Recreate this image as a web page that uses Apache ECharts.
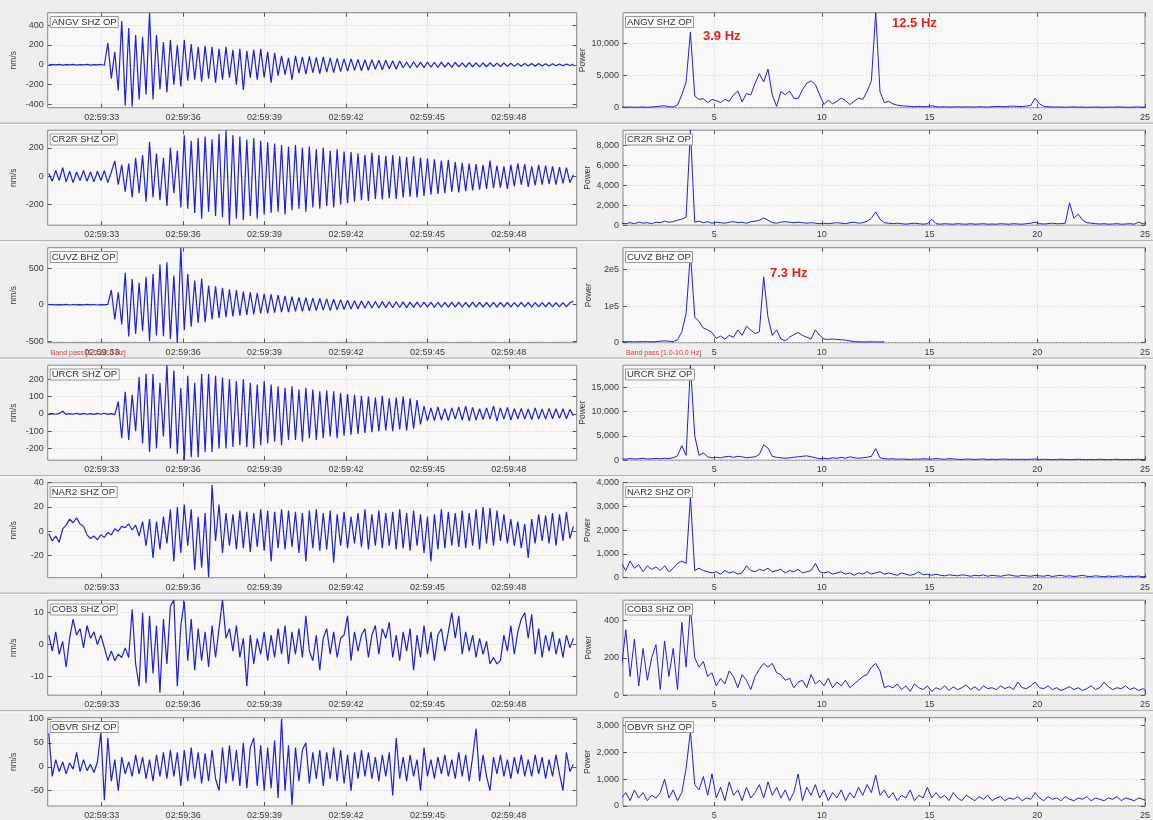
<!DOCTYPE html>
<html><head><meta charset="utf-8">
<script src="https://cdn.jsdelivr.net/npm/echarts@6/dist/echarts.min.js"></script>
<style>html,body{margin:0;padding:0;background:#eeeeee}#c{width:1153px;height:820px}</style>
</head><body><div id="c"></div>
<script>
// ---------- data ----------
const stations = ['ANGV SHZ OP','CR2R SHZ OP','CUVZ BHZ OP','URCR SHZ OP','NAR2 SHZ OP','COB3 SHZ OP','OBVR SHZ OP'];
const timeTicks = [33,36,39,42,45,48];
const freqTicks = [5,10,15,20,25];
const timeRange = [31.01, 50.5];
const freqRange = [0.77, 25.0];
const T0 = 31.05, DT = 0.128;   // seismogram sample start / step (s after 02:59:00)
const F0 = 0.7, DF = 0.2;       // spectrum start / step (Hz)

const waveANGV = [0,2,-2,3,-3,2,-2,4,-3,2,-2,3,-3,2,-2,3,-5,
 220,-140,130,-260,440,-413,370,-420,300,-350,280,-300,525,-350,300,-250,230,-278,250,-200,200,-220,250,-160,
 210,-150,180,-170,190,-140,180,-180,160,-150,180,-130,150,-200,160,-254,140,-130,150,-150,160,-130,130,-180,120,-110,90,-100,70,-150,
 90,-85,80,-95,85,-80,75,-90,80,-75,70,-80,65,-70,60,-65,60,-55,55,-60,50,-55,50,-45,45,-50,45,-40,40,-45,38,
 -30,28,-32,30,-28,26,-30,28,-25,25,-28,26,-24,22,-26,24,-22,20,-24,22,-20,20,-22,18,-20,20,-18,16,-18,18,-16,15,-16,14,-15,14,-13,12,-14,12,-12,10,-12,10,-10,8,-10,8,-8,6];
const waveCR2R = [20,-35,40,-30,60,-40,35,-45,30,-30,40,-35,30,-40,35,-30,40,-45,30,
 108,-60,80,-110,90,-150,130,-120,150,-180,242,-150,160,-170,130,-210,200,-120,180,-220,
 290,-230,250,-260,270,-300,280,-250,260,-280,300,-290,325,-346,290,-300,280,-310,260,-280,270,-300,250,-270,
 240,-260,230,-250,220,-270,210,-240,220,-230,200,-250,210,-220,190,-230,200,-210,180,-220,190,-200,175,
 -190,170,-180,160,-170,150,-175,165,-160,150,-165,145,-155,150,-160,140,-150,135,-145,140,-150,130,-140,
 125,-130,120,-125,110,-120,115,-110,100,-115,95,-105,90,-100,85,-95,80,-90,110,-85,75,-80,70,-90,
 80,-70,90,-60,85,-75,70,-65,80,-60,75,-55,70,-60,65,-50,60,-45,10];
const waveCUVZ = [0,3,-3,2,-2,4,-4,3,-3,2,-3,4,-2,3,-4,2,-3,5,
 200,-200,170,-270,436,-436,350,-400,300,-360,380,-500,420,-420,550,-430,580,-470,400,-520,780,-350,
 420,-300,330,-250,358,-240,260,-200,250,-180,230,-170,210,-160,200,-150,180,-140,170,-130,160,-120,150,
 -120,140,-110,130,-100,120,-100,110,-90,100,-90,95,-85,90,-80,85,-75,80,-80,75,-70,70,-65,
 60,-60,55,-55,50,-50,48,-45,45,-45,42,-40,40,-42,40,-38,38,-40,36,-36,35,-35,34,
 -34,35,-36,34,-35,33,-34,35,-33,34,-35,33,-32,34,-33,32,-34,33,-32,31,-33,32,-31,33,-32,30,-31,32,-30,31,-32,30,-31,30,-29,31,-30,29,-30,28,-29,30,45];
const waveURCR = [0,2,-2,3,15,-3,2,-2,4,-3,3,-2,2,-3,3,-2,4,-3,2,-4,
 70,-140,127,-150,110,-100,213,-170,232,-220,230,-200,180,-130,281,-200,250,-230,150,
 -267,220,-250,180,-250,230,-220,230,-220,220,-200,210,-200,200,-190,190,-180,200,-190,180,-200,170,-180,190,
 -170,170,-160,160,-180,150,-150,160,-150,140,-160,150,-140,140,-150,130,-140,135,-130,130,-140,120,-125,
 115,-120,110,-115,105,-110,100,-105,95,-100,105,-95,90,-100,95,-90,100,-95,90,-85,80,-60,45,
 -40,35,-38,40,-35,30,-38,35,-30,40,-35,45,-40,38,-35,30,-32,35,-30,45,-40,35,-30,38,-35,30,-28,32,-30,28,-32,35,-30,28,-30,32,-28,30,-26,30,-28,26,-10];
const waveNAR2 = [-2,-8,-4,-9,2,5,10,7,11,6,4,-3,-6,-4,-7,-3,-5,-1,-3,2,0,4,3,6,1,5,-4,8,
 -12,10,-22,8,-15,12,-10,18,-25,20,-18,22,-12,
 18,-32,12,-30,15,-38,38,-8,22,-18,15,-12,
 14,-15,17,-14,16,-17,15,-13,18,-16,17,-25,16,-14,18,-15,17,-13,16,-18,15,-25,17,-14,18,-16,15,-15,17,-26,
 14,-12,16,-14,12,-10,15,-13,18,-15,14,-12,17,-14,15,-12,16,-15,18,-14,15,-16,17,-12,14,-18,12,-25,14,-15,
 18,-14,16,-12,15,-13,17,-14,15,-12,18,-15,20,-10,19,-12,17,-8,14,-10,10,-12,8,-14,6,-22,10,-10,14,-8,13,-10,15,-12,14,-8,16,-6,4];
const waveCOB3 = [3,-2,4,-3,1,-7,2,8,3,5,-1,6,2,4,0,3,-1,-5,-2,-5,-3,-4,-1,-4,
 11,-6,-13,10,-12,9,-9,6,-15,8,-6,12,14,-13,6,13.5,-5,
 8,-8,5,-5,4,-7,6,-4,5,14,2,5,-2,6,-4,2,-12.9,3,-6,2,
 -3,4,-5,3,-4,5,-3,6,-6,4,-3,5,-4,9,-2,-5,3,-8,2,5,-3,4,-4,2,3,9,-5,4,-2,3,
 5,-4,3,6,-3,5,2,7,-4,3,-5,4,-2,5,-8,3,-4,6,-3,4,-5,3,5,-2,4,10,2,9,-3,4,-2,3,-4,2,-3,1,-6,-4,-6,-5,3,-2,6,-3,4,8,10,2,9.5,-3,5,-4,3,-2,4,-3,2,-4,3,-1,2];
const waveOBVR = [70,-20,15,-10,10,-15,8,-5,30,-10,15,-8,5,-12,10,
 72,-70,60,-30,15,-50,20,-15,10,-20,25,-15,20,-25,15,
 -30,25,-20,30,-25,35,-20,30,-40,35,-30,40,-25,30,-35,28,-30,35,-25,
 -50,40,-35,45,-30,35,-40,50,-45,40,60,-40,45,-50,40,-45,55,-65,100,-50,45,-80,40,
 -30,35,50,-35,30,-25,35,-40,30,-25,40,-30,35,-35,25,-50,30,-25,35,-20,30,-25,20,-30,25,-20,30,-60,
 60,-25,20,-30,25,-20,15,-50,40,-20,15,-25,20,-15,25,-20,15,-25,30,-20,25,-30,20,80,-30,25,-20,-50,20,-15,25,-20,15,-25,20,-15,25,-20,15,-20,25,-15,20,-25,15,-20,25,-15,-50,30,-10,5];

const specANGV = [100,80,100,60,80,100,60,120,150,250,300,150,120,400,2000,4000,
 11800,1800,1300,1400,800,1300,1100,800,1300,1000,2000,2600,900,2200,2000,3800,5300,
 4000,6000,2000,200,2500,2000,2600,1500,1400,2800,3800,4200,3600,2000,
 500,1200,600,1000,1500,1100,500,1000,1500,1300,2500,4200,14800,2500,800,1000,
 600,400,300,250,200,150,200,150,200,300,150,120,150,100,120,150,100,130,120,100,150,120,100,150,200,180,150,220,250,200,180,250,350,
 1500,600,200,150,100,120,100,80,100,120,80,100,60,80,100,80,60,100,80,120,100,80,60,100,120,80,100];
const specCR2R = [200,150,250,150,300,200,250,150,300,250,400,300,350,500,600,800,
 9500,300,400,250,350,200,300,250,200,300,350,250,300,200,350,400,500,
 730,500,250,200,300,350,300,250,300,250,200,250,200,150,
 200,150,200,250,200,150,250,300,200,250,400,700,1330,600,250,200,
 150,200,150,100,150,200,150,100,150,600,150,100,150,120,100,150,120,100,150,100,120,150,100,120,100,150,120,100,150,120,100,150,200,
 300,150,120,150,200,150,150,200,2230,700,1100,500,250,200,150,120,150,100,120,150,100,120,150,100,300,150,120];
const specCUVZ = [3000,2500,3000,2000,3000,2500,3000,2000,3000,4000,5000,4000,3000,8000,30000,80000,
 245000,70000,58000,40000,35000,28000,12000,18000,10000,20000,15000,35000,20000,45000,35000,25000,30000,
 180000,70000,20000,35000,10000,5000,15000,22000,28000,20000,15000,10000,35000,20000,
 10000,9000,10000,9000,8000,7000,5000,3000,2500,2000,2000,2500,2000,2000,2500];
const specURCR = [300,200,350,250,300,400,250,300,350,300,400,350,500,900,3000,1000,
 19600,5000,1000,1500,700,500,600,500,700,800,600,800,700,500,600,700,1200,
 3200,2500,800,600,500,400,500,600,700,800,900,700,500,300,
 400,300,500,400,600,400,700,500,400,500,600,800,2400,500,300,250,
 300,200,250,200,150,250,200,300,250,200,350,250,200,300,250,200,150,250,200,150,200,250,150,200,150,200,250,150,200,150,200,150,200,
 250,150,200,150,100,150,200,150,100,150,200,150,100,150,100,200,150,100,150,200,100,150,100,150,200,100,150];
const specNAR2 = [600,300,700,400,550,250,500,350,450,300,500,250,400,600,700,600,
 3400,300,400,300,250,200,250,150,300,200,250,150,200,500,300,250,350,
 300,400,250,300,350,200,300,250,350,200,250,300,600,250,
 200,250,150,200,250,150,200,100,200,150,250,150,200,250,150,200,
 150,100,200,150,100,150,250,120,150,100,150,100,80,120,100,80,120,100,60,100,80,120,60,100,80,60,100,120,80,60,100,80,60,
 100,80,60,100,50,80,100,60,80,50,70,100,60,50,80,60,40,70,50,60,80,40,60,50,70,40,60];
const specCOB3 = [150,350,100,300,50,250,80,200,270,30,290,100,250,30,390,150,
 470,200,150,180,100,120,50,90,60,130,100,40,110,80,30,100,140,
 170,150,170,120,110,80,90,40,70,80,40,110,60,80,
 50,90,40,70,50,80,40,60,80,100,110,150,170,130,40,50,
 40,60,30,50,20,60,40,30,50,20,40,30,50,25,45,30,40,55,30,45,25,50,35,40,30,50,35,45,30,70,40,35,50,
 70,40,35,50,30,40,25,35,45,30,40,25,35,50,30,40,70,45,30,40,35,50,30,40,25,35,20];
const specOBVR = [300,500,200,600,300,500,200,400,300,500,1000,300,600,200,500,1400,
 2800,800,600,1100,400,1200,300,700,200,900,400,600,200,700,300,500,800,
 300,900,400,700,300,600,200,500,1200,200,700,400,800,300,
 600,200,500,300,600,200,500,300,700,400,800,500,1150,400,600,300,
 500,200,400,300,600,200,400,300,700,300,500,300,400,200,500,300,200,400,300,200,350,250,400,200,300,350,200,300,250,350,200,300,250,
 500,300,200,350,250,300,200,350,250,200,300,250,350,200,300,250,200,300,250,350,200,300,250,200,300,250,200];

const waves = [waveANGV, waveCR2R, waveCUVZ, waveURCR, waveNAR2, waveCOB3, waveOBVR];
const specs = [specANGV, specCR2R, specCUVZ, specURCR, specNAR2, specCOB3, specOBVR];
const waveRanges = [[-433,525],[-346,325],[-520,780],[-267,281],[-38.3,40],[-15.8,13.9],[-82,102.5]];
const waveTicks = [[-400,-200,0,200,400],[-200,0,200],[-500,0,500],[-200,-100,0,100,200],[-20,0,20,40],[-10,0,10],[-50,0,50,100]];
const specRanges = [[0,14800],[0,9500],[0,260000],[0,19600],[0,4000],[0,508],[0,3300]];
const specTicks = [[0,5000,10000],[0,2000,4000,6000,8000],[0,100000,200000],[0,5000,10000,15000],[0,1000,2000,3000,4000],[0,200,400],[0,1000,2000,3000]];
const peakNotes = [{row:0,text:'3.9 Hz',x:703,y:30},{row:0,text:'12.5 Hz',x:892,y:17},{row:2,text:'7.3 Hz',x:770,y:267}];
const bandNote = 'Band pass [1.0-10.0 Hz]';

// ---------- layout ----------
const FONT = '"Liberation Sans", Arial, sans-serif';
const LX = 47.7, LW = 529, RX = 623, RW = 533, TOP0 = 12.7, DY = 117.5, H = 95;
const BLUE = '#1f1fdc';

const grid = [], xAxis = [], yAxis = [], series = [], title = [], graphic = [];
function fmtThousands(v){ return v.toLocaleString('en-US'); }
function fmtE5(v){ return v === 0 ? '0' : (v/1e5) + 'e5'; }

function addPanel(row, col){
  const g = grid.length;
  const top = TOP0 + row*DY;
  grid.push({left: col ? RX : LX, top: top, width: col ? RW : LW, height: H,
    show: true, backgroundColor: '#f8f8f8', borderColor: '#858585', borderWidth: 1, containLabel: false});
  const xr = col ? freqRange : timeRange;
  const xt = col ? freqTicks : timeTicks;
  const yr = col ? specRanges[row] : waveRanges[row];
  const yt = col ? specTicks[row] : waveTicks[row];
  const xfmt = col ? (v => String(v)) : (v => '02:59:' + v);
  const yfmt = col ? (row === 2 ? fmtE5 : fmtThousands) : (v => String(v));
  const tick = {show: true, inside: true, length: 4, lineStyle: {color: '#555', width: 1}};
  const split = {show: true, lineStyle: {color: '#cfcfcf', width: 1, type: [1, 2]}};
  ['bottom','top'].forEach(pos => {
    xAxis.push({type: 'value', gridIndex: g, min: xr[0], max: xr[1], position: pos,
      axisLine: {show: false, onZero: false},
      axisTick: Object.assign({customValues: xt}, tick),
      axisLabel: {show: pos === 'bottom', customValues: xt, formatter: xfmt, fontSize: 9, color: '#3a3a3a', margin: 5, fontFamily: FONT},
      splitLine: pos === 'bottom' ? split : {show: false}});
  });
  ['left','right'].forEach(pos => {
    yAxis.push({type: 'value', gridIndex: g, min: yr[0], max: yr[1], position: pos,
      axisLine: {show: false, onZero: false},
      axisTick: Object.assign({customValues: yt}, tick),
      axisLabel: {show: pos === 'left', customValues: yt, formatter: yfmt, fontSize: 9, color: '#3a3a3a', margin: 4, fontFamily: FONT},
      splitLine: pos === 'left' ? split : {show: false},
      name: pos === 'left' ? (col ? 'Power' : 'nm/s') : '',
      nameLocation: 'middle', nameGap: 30, nameRotate: 90,
      nameTextStyle: {fontSize: 8.5, color: '#3a3a3a', fontFamily: FONT}});
  });
  const vals = col ? specs[row] : waves[row];
  const s0 = col ? F0 : T0, ds = col ? DF : DT;
  series.push({type: 'line', xAxisIndex: 2*g, yAxisIndex: 2*g, showSymbol: false, symbol: 'none',
    silent: true, animation: false, clip: true,
    lineStyle: {color: BLUE, width: col ? 1 : 1.2},
    data: vals.map((v, i) => [s0 + i*ds, v])});
  title.push({text: stations[row], left: (col ? RX : LX) + 2, top: top + 3.3,
    padding: [1, 2], borderColor: '#9a9a9a', borderWidth: 1, backgroundColor: '#fbfbfb',
    textStyle: {fontSize: 9.5, fontWeight: 'normal', color: '#333', fontFamily: FONT, lineHeight: 10}});
}
for (let r = 0; r < 7; r++){ addPanel(r, 0); addPanel(r, 1); }

peakNotes.forEach(p => title.push({text: p.text, left: p.x, top: p.y, padding: 0,
  textStyle: {fontSize: 13, fontWeight: 'bold', color: '#e3231b', fontFamily: FONT}}));
[LX + 3, RX + 3].forEach(x => title.push({text: bandNote, left: x, top: TOP0 + 2*DY + H + 7, padding: 0,
  textStyle: {fontSize: 7, fontWeight: 'normal', color: '#e03a3a', fontFamily: FONT}}));

for (let r = 0; r < 6; r++){
  const y = TOP0 + r*DY + 110.5;
  graphic.push({type: 'line', shape: {x1: 0, y1: y, x2: 1153, y2: y}, style: {stroke: '#b4b4b4', lineWidth: 1.2}, silent: true});
  graphic.push({type: 'line', shape: {x1: 0, y1: y + 1.3, x2: 1153, y2: y + 1.3}, style: {stroke: '#fdfdfd', lineWidth: 1}, silent: true});
}

const chart = echarts.init(document.getElementById('c'), null, {renderer: 'canvas'});
chart.setOption({backgroundColor: '#eeeeee', animation: false, grid, xAxis, yAxis, series, title, graphic});
</script></body></html>
